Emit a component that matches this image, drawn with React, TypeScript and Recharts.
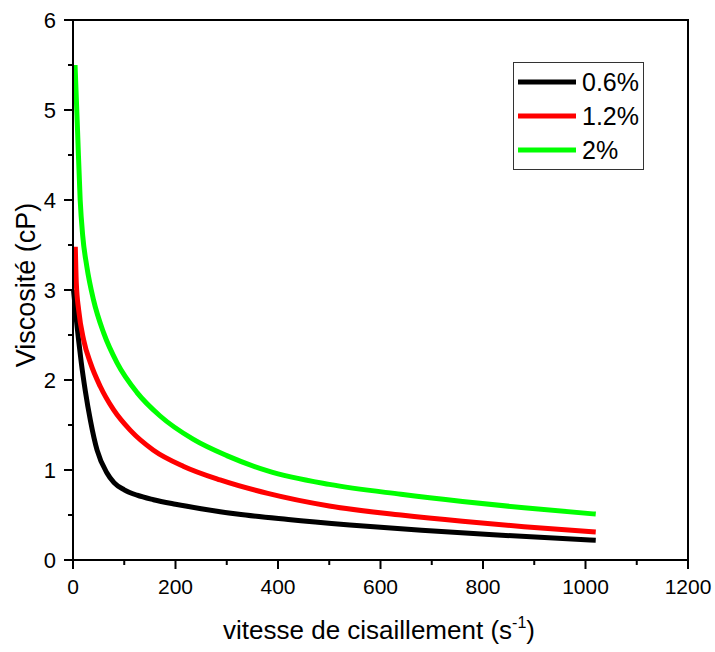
import { LineChart, Line, XAxis, YAxis, ReferenceArea, Label } from "recharts";

const FONT = "'Liberation Sans', Arial, sans-serif";

const X_TICKS = [0, 100, 200, 300, 400, 500, 600, 700, 800, 900, 1000, 1100, 1200];
const Y_TICKS = [0, 0.5, 1, 1.5, 2, 2.5, 3, 3.5, 4, 4.5, 5, 5.5, 6];

const SHEAR_06 = [1, 6, 11, 16, 24, 34, 47, 66, 80, 100, 125, 157, 200, 250, 320, 420, 540, 680, 820, 1020];
const VISC_06 = [3.0, 2.7, 2.44, 2.2, 1.88, 1.55, 1.22, 0.97, 0.86, 0.78, 0.72, 0.67, 0.62, 0.57, 0.51, 0.45, 0.39, 0.33, 0.28, 0.22];

const SHEAR_12 = [4.5, 6.5, 11, 21, 34, 53, 79, 112, 157, 216, 287, 380, 500, 640, 760, 880, 1020];
const VISC_12 = [3.48, 3.07, 2.78, 2.44, 2.19, 1.93, 1.67, 1.44, 1.22, 1.04, 0.89, 0.74, 0.6, 0.5, 0.43, 0.37, 0.31];

const SHEAR_2 = [4, 9, 14, 19, 27, 40, 60, 86, 125, 170, 235, 300, 380, 500, 640, 760, 880, 1020];
const VISC_2 = [5.5, 4.75, 4.0, 3.6, 3.26, 2.89, 2.52, 2.19, 1.86, 1.6, 1.34, 1.16, 0.99, 0.84, 0.73, 0.65, 0.58, 0.51];

const SERIES = [
  { name: "0.6%", color: "#000000", data: SHEAR_06.map((x, i) => ({ x, y: VISC_06[i] })) },
  { name: "1.2%", color: "#ff0000", data: SHEAR_12.map((x, i) => ({ x, y: VISC_12[i] })) },
  { name: "2%", color: "#00ff00", data: SHEAR_2.map((x, i) => ({ x, y: VISC_2[i] })) },
];

const XTick = ({ x, y, payload }: any) => {
  const major = payload.value % 200 === 0;
  return (
    <g>
      <line x1={x} x2={x} y1={y} y2={y + (major ? 9 : 5)} stroke="#000" strokeWidth={2} />
      {major && (
        <text x={x} y={y + 34} textAnchor="middle" fontSize={21} fontFamily={FONT} fill="#000">
          {payload.value}
        </text>
      )}
    </g>
  );
};

const YTick = ({ x, y, payload }: any) => {
  const major = Number.isInteger(payload.value);
  return (
    <g>
      <line x1={x} x2={x - (major ? 9 : 5)} y1={y} y2={y} stroke="#000" strokeWidth={2} />
      {major && (
        <text x={x - 17} y={y + 8} textAnchor="end" fontSize={22} fontFamily={FONT} fill="#000">
          {payload.value}
        </text>
      )}
    </g>
  );
};

// legend drawn as an overlay so it doesn't eat plot height
const LegendBox = () => (
  <div
    style={{
      position: "absolute",
      left: 513,
      top: 62,
      border: "1px solid #333",
      width: 131,
      height: 108,
      boxSizing: "border-box",
      background: "#fff",
    }}
  >
    <svg width={129} height={106} style={{ display: "block" }}>
      {SERIES.map((s, i) => (
        <g key={s.name}>
          <line x1={4} x2={62} y1={19 + i * 34} y2={19 + i * 34} stroke={s.color} strokeWidth={5} />
          <text x={68} y={28 + i * 34} fontSize={25} fontFamily={FONT} fill="#000">
            {s.name}
          </text>
        </g>
      ))}
    </svg>
  </div>
);

export default function App() {
  return (
    <div style={{ position: "absolute", left: 0, top: 0, width: 715, height: 652, background: "#fff" }}>
      <LineChart width={715} height={652} margin={{ top: 20, right: 27, left: 0, bottom: 0 }}>
        <XAxis
          type="number"
          dataKey="x"
          domain={[0, 1200]}
          ticks={X_TICKS}
          interval={0}
          height={92}
          tickSize={0}
          tickMargin={0}
          tickLine={false}
          axisLine={{ stroke: "#000", strokeWidth: 2 }}
          tick={<XTick />}
          allowDuplicatedCategory={false}
        >
          <Label
            content={() => (
              <text x={379} y={639} textAnchor="middle" fontSize={26} fontFamily={FONT} fill="#000">
                vitesse de cisaillement (s
                <tspan fontSize={16} dy={-11}>-1</tspan>
                <tspan dy={11}>)</tspan>
              </text>
            )}
          />
        </XAxis>
        <YAxis
          type="number"
          dataKey="y"
          domain={[0, 6]}
          ticks={Y_TICKS}
          interval={0}
          width={73}
          tickSize={0}
          tickMargin={0}
          tickLine={false}
          axisLine={{ stroke: "#000", strokeWidth: 2 }}
          tick={<YTick />}
        >
          <Label
            content={() => (
              <text
                x={35}
                y={285}
                transform="rotate(-90, 35, 285)"
                textAnchor="middle"
                fontSize={27}
                fontFamily={FONT}
                fill="#000"
              >
                Viscosité (cP)
              </text>
            )}
          />
        </YAxis>
        <ReferenceArea x1={0} x2={1200} y1={0} y2={6} fill="none" stroke="#000" strokeWidth={2} ifOverflow="visible" />
        {SERIES.map((s) => (
          <Line
            key={s.name}
            data={s.data}
            dataKey="y"
            name={s.name}
            type="monotone"
            stroke={s.color}
            strokeWidth={5}
            dot={false}
            isAnimationActive={false}
          />
        ))}
      </LineChart>
      <LegendBox />
    </div>
  );
}
